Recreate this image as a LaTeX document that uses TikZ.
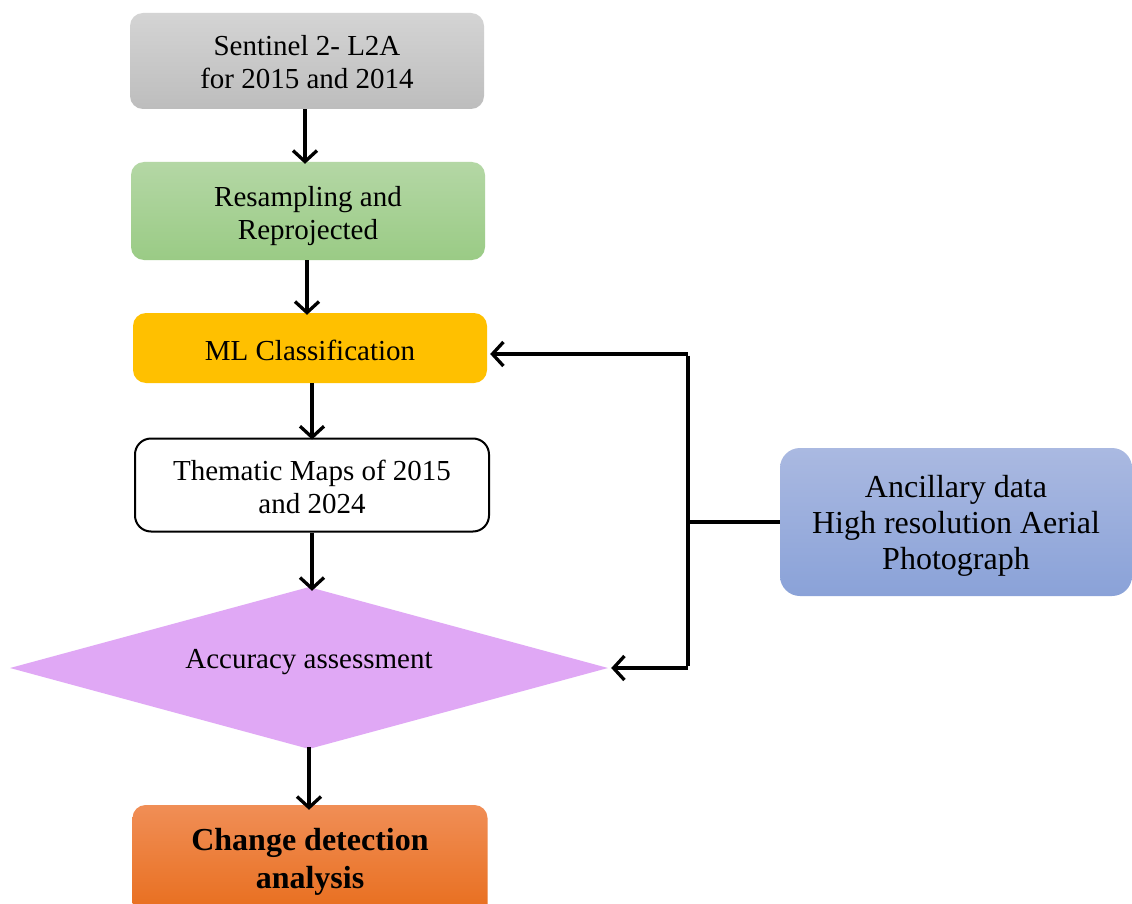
\documentclass[tikz,border=0pt]{standalone}
\usepackage{fontspec}
\setmainfont{Liberation Serif}
\usetikzlibrary{arrows.meta,shapes.geometric}
\definecolor{grayT}{HTML}{D4D4D4}
\definecolor{grayB}{HTML}{BDBDBD}
\definecolor{greenT}{HTML}{B4D7A5}
\definecolor{greenB}{HTML}{9ACB85}
\definecolor{mlyellow}{HTML}{FFC000}
\definecolor{orangeT}{HTML}{F08E56}
\definecolor{orangeB}{HTML}{E86D1C}
\definecolor{blueT}{HTML}{AAB9E1}
\definecolor{blueB}{HTML}{8AA2D8}
\definecolor{lilac}{HTML}{E0A8F5}
\newcommand\mystk[2]{\raisebox{#1}[\height][\depth]{\begin{tabular}{@{}c@{}}#2\end{tabular}}}
\tikzset{
  box/.style={rectangle, rounded corners=13pt, align=center, inner sep=0pt,
    font=\fontsize{29}{33}\selectfont},
  arr/.style={line width=3.3pt, -{Straight Barb[length=11pt,width=24pt,line width=3.3pt]}},
  conn/.style={line width=3.3pt}
}
\begin{document}
\begin{tikzpicture}[x=1pt,y=-1pt]
\useasboundingbox[fill=white] (0,0) rectangle (1132,904);
\node[box, top color=grayT, bottom color=grayB, minimum width=354pt, minimum height=96pt]
  (sen) at (307,61) {\mystk{-4pt}{Sentinel 2- L2A\\for 2015 and 2014}};
\node[box, top color=greenT, bottom color=greenB, minimum width=354pt, minimum height=98pt]
  (res) at (308,211) {\mystk{-5pt}{Resampling and\\Reprojected}};
\node[box, fill=mlyellow, minimum width=354pt, minimum height=70pt]
  (ml) at (310,348) {\raisebox{-2pt}[\height][\depth]{ML Classification}};
\node[box, draw=black, line width=2pt, fill=white, minimum width=354pt, minimum height=93pt, rounded corners=16pt]
  (thm) at (312,485) {\mystk{-5pt}{Thematic Maps of 2015\\and 2024}};
\node[diamond, fill=lilac, inner sep=0pt, aspect=3.69, minimum width=598pt, minimum height=162pt,
  font=\fontsize{29}{33}\selectfont]
  (dia) at (309,668) {\raisebox{6pt}[\height][\depth]{Accuracy assessment}};
\node[box, top color=orangeT, bottom color=orangeB, minimum width=355pt, minimum height=112pt,
  font=\fontsize{32}{38}\selectfont\bfseries]
  (chg) at (310,861) {\mystk{-1pt}{Change detection\\analysis}};
\node[box, top color=blueT, bottom color=blueB, minimum width=352pt, minimum height=148pt, rounded corners=20pt,
  font=\fontsize{32}{36}\selectfont]
  (anc) at (956,522) {\mystk{-4pt}{Ancillary data\\High resolution Aerial\\Photograph}};
\coordinate (jn) at (688,522);
\coordinate (jt) at (688,354);
\coordinate (jb) at (688,668);
\draw[arr] ([xshift=-2pt]sen.south) -- ([xshift=-2pt,yshift=-2pt]sen.south |- res.north);
\draw[arr] ([xshift=-1pt]res.south) -- ([xshift=-1pt,yshift=-2pt]res.south |- ml.north);
\draw[arr] ([xshift=2pt]ml.south) -- ([xshift=2pt,yshift=-2pt]ml.south |- thm.north);
\draw[arr] (thm.south) -- ([yshift=-4pt]thm.south |- dia.north);
\draw[arr] ([yshift=2pt]dia.south) -- ([yshift=-5pt]dia.south |- chg.north);
\draw[conn] (anc.west) -- (jn);
\draw[conn] ([yshift=-1.65pt]jt) -- ([yshift=1.65pt]jb);
\draw[arr] (jt) -- ([xshift=3pt]jt -| ml.east);
\draw[arr] (jb) -- ([xshift=3pt]dia.east);
\end{tikzpicture}
\end{document}
